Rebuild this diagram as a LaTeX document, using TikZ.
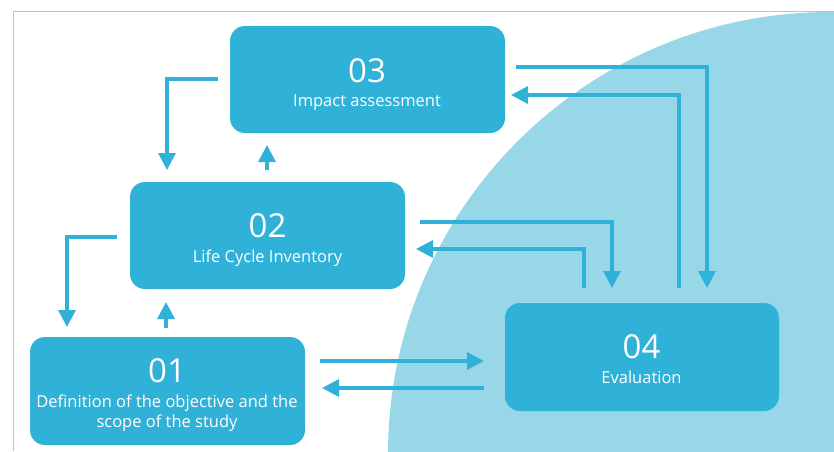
\documentclass[tikz,border=0pt]{standalone}
\usepackage{fontspec}
\setmainfont{Open Sans}
\usetikzlibrary{arrows.meta}
\definecolor{boxc}{HTML}{2FB1D8}
\definecolor{circc}{HTML}{97D7E8}
\definecolor{framec}{HTML}{8ED5E9}
\tikzset{
  stagebox/.style={rectangle, rounded corners=15pt, fill=boxc, draw=none,
    minimum width=275pt, minimum height=107pt, inner sep=0pt},
  stagenum/.style={text=white, font=\fontsize{33}{33}\selectfont, anchor=base, inner sep=0pt},
  stagelabel/.style={text=white, font=\fontsize{16.5}{20}\selectfont, anchor=base, inner sep=0pt, align=center},
  conn/.style={draw=boxc, line width=3.4pt, -{Triangle[width=17pt,length=17pt]}}
}
\begin{document}
\begin{tikzpicture}[x=1pt,y=-1pt]
\useasboundingbox (0,0) rectangle (834,451);

% quarter disc in the background, kept inside the frame
\begin{scope}
  \clip (13.5,11.5) rectangle (834,451);
  \fill[circc] (830,454) circle (442);
\end{scope}
% thin frame on the left and top
\draw[framec, line width=1.4pt] (13.5,451) -- (13.5,11.5) -- (834,11.5);

% the four stages
\node[stagebox] (b03) at (367.5,79.5) {};
\node[stagebox] (b02) at (267.5,235.5) {};
\node[stagebox, minimum height=108pt] (b01) at (167.5,391) {};
\node[stagebox, minimum width=274pt, minimum height=108pt] (b04) at (642,357) {};

\node[stagenum] (n03) at (367,82) {03};
\node[stagelabel] (l03) at (367,106) {Impact assessment};
\node[stagenum] (n02) at (267.5,237) {02};
\node[stagelabel] (l02) at (267.5,262) {Life Cycle Inventory};
\node[stagenum] (n01) at (167,382) {01};
% base of a two-line node is the base of its last line
\node[stagelabel] (l01) at (167,427) {Definition of the objective and the\\scope of the study};
\node[stagenum] (n04) at (641.5,358) {04};
\node[stagelabel] (l04) at (641.5,383) {Evaluation};

% connector end points
\coordinate (a1s) at (218,79);   \coordinate (a1e) at (167,170);
\coordinate (a2s) at (267,170);  \coordinate (a2e) at (267,145);
\coordinate (a3s) at (117,237);  \coordinate (a3e) at (67,327);
\coordinate (a4s) at (166,328);  \coordinate (a4e) at (166,302);
\coordinate (a5s) at (320,361);  \coordinate (a5e) at (484,361);
\coordinate (a6s) at (484,388);  \coordinate (a6e) at (322,388);
\coordinate (a7s) at (420,222);  \coordinate (a7e) at (612,288);
\coordinate (a8s) at (584,288);  \coordinate (a8e) at (416,249);
\coordinate (a9s) at (516,67);   \coordinate (a9e) at (707,288);
\coordinate (a10s) at (679,288); \coordinate (a10e) at (511,95);

\draw[conn] (a1s) -| (a1e);
\draw[conn] (a2s) -- (a2e);
\draw[conn] (a3s) -| (a3e);
\draw[conn] (a4s) -- (a4e);
\draw[conn] (a5s) -- (a5e);
\draw[conn] (a6s) -- (a6e);
\draw[conn] (a7s) -| (a7e);
\draw[conn] (a8s) |- (a8e);
\draw[conn] (a9s) -| (a9e);
\draw[conn] (a10s) |- (a10e);
\end{tikzpicture}
\end{document}
